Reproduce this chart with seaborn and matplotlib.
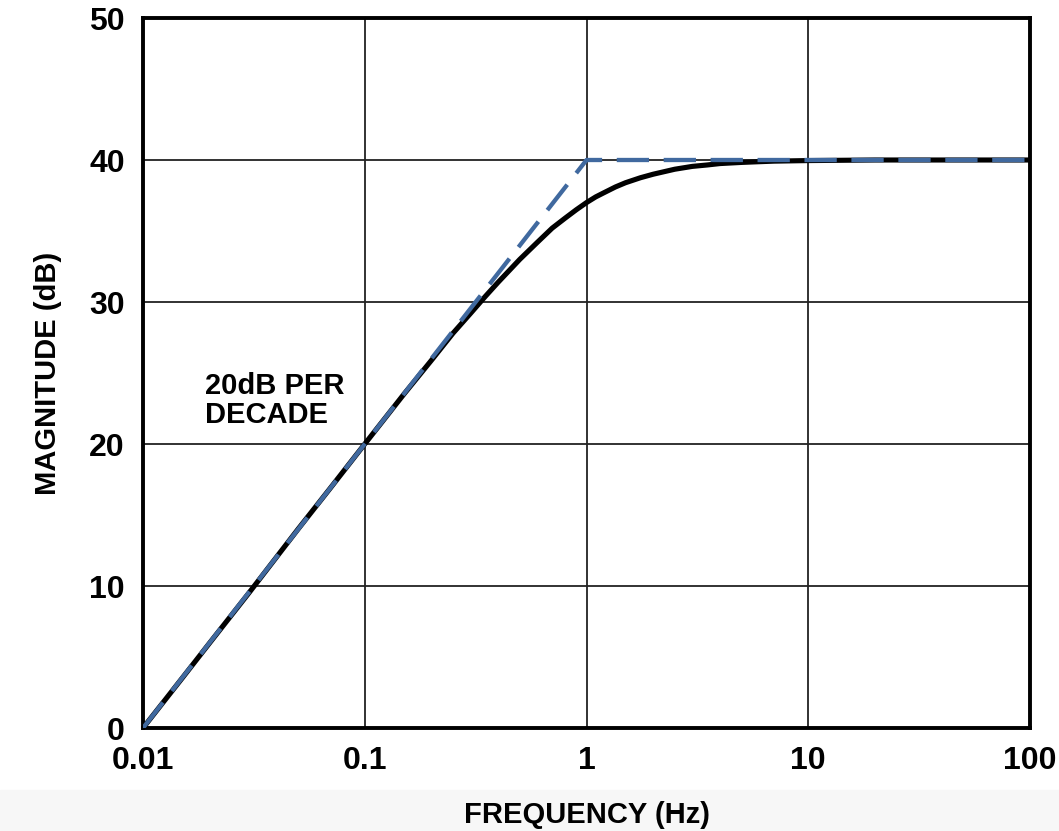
import numpy as np
import pandas as pd
import matplotlib
matplotlib.use("Agg")
import matplotlib.pyplot as plt
import seaborn as sns
from matplotlib.patches import Rectangle

# magnitude response
freq = [0.01, 0.015, 0.02, 0.03, 0.05, 0.07, 0.1, 0.15, 0.2, 0.25, 0.3, 0.35, 0.4, 0.5, 0.6,
        0.7, 0.8, 0.9, 1.0, 1.1, 1.2, 1.35, 1.5, 1.75, 2.0, 2.5, 3.0, 3.5, 4.0, 5.0, 6.0, 7.0,
        10.0, 20.0, 50.0, 100.0]
mag = [0, 3.5, 6.0, 9.5, 14.0, 16.9, 20.0, 23.5, 25.9, 27.8, 29.2, 30.4, 31.4, 33.0, 34.2,
       35.2, 35.9, 36.5, 37.0, 37.4, 37.7, 38.1, 38.4, 38.75, 39.0, 39.35, 39.55, 39.65, 39.75,
       39.83, 39.88, 39.92, 39.96, 40.0, 40.0, 40.0]

# straight-line asymptote
asym_freq = [0.01, 1.0, 100.0]
asym_mag = [0, 40, 40]

x_ticks = [0.01, 0.1, 1, 10, 100]
x_tick_labels = ["0.01", "0.1", "1", "10", "100"]
y_ticks = [0, 10, 20, 30, 40, 50]

sns.set_style("white")
plt.rcParams['font.family'] = ['Liberation Sans', 'DejaVu Sans']
plt.rcParams['text.color'] = 'black'
plt.rcParams['axes.labelcolor'] = 'black'
plt.rcParams['xtick.color'] = 'black'
plt.rcParams['ytick.color'] = 'black'

fig = plt.figure(figsize=(10.59, 8.31), dpi=100)
fig.add_artist(Rectangle((0, 0), 1, 41 / 831, transform=fig.transFigure,
                         color="#f7f7f7", zorder=-5))
ax = fig.add_axes([143 / 1059, 103 / 831, 887 / 1059, 710 / 831])
ax.set_zorder(2)

df = pd.DataFrame({"freq": freq, "mag": mag})
df_asym = pd.DataFrame({"freq": asym_freq, "mag": asym_mag})

sns.lineplot(data=df, x="freq", y="mag", color="black", linewidth=3.7, sort=False, ax=ax, zorder=3)
sns.lineplot(data=df_asym, x="freq", y="mag", color="#40699f", linewidth=3.1, sort=False, ax=ax,
             zorder=4)
ax.lines[-1].set_dashes([7.5, 3.4])
ax.lines[0].set_solid_joinstyle("round")

ax.set_xscale("log")
ax.set_xlim(0.01, 100)
ax.set_ylim(0, 50)
ax.set_xticks(x_ticks)
ax.set_xticklabels(x_tick_labels)
ax.xaxis.set_minor_locator(matplotlib.ticker.NullLocator())
ax.set_yticks(y_ticks)
ax.tick_params(length=0, labelsize=23, pad=13)
for lbl in ax.get_xticklabels() + ax.get_yticklabels():
    lbl.set_fontweight("bold")

ax.grid(True, color="#222222", linewidth=1.3)
for s in ax.spines.values():
    s.set_visible(True)
    s.set_color("black")
    s.set_linewidth(2.8)

ax.set_xlabel("FREQUENCY (Hz)", fontsize=21, fontweight="bold", labelpad=18)
ax.set_ylabel("MAGNITUDE (dB)", fontsize=21, fontweight="bold", labelpad=20)

ax.text(0.019, 25.1, "20dB PER\nDECADE", fontsize=21, fontweight="bold",
        ha="left", va="top", linespacing=1.05)

fig.savefig("out.png", dpi=100)
